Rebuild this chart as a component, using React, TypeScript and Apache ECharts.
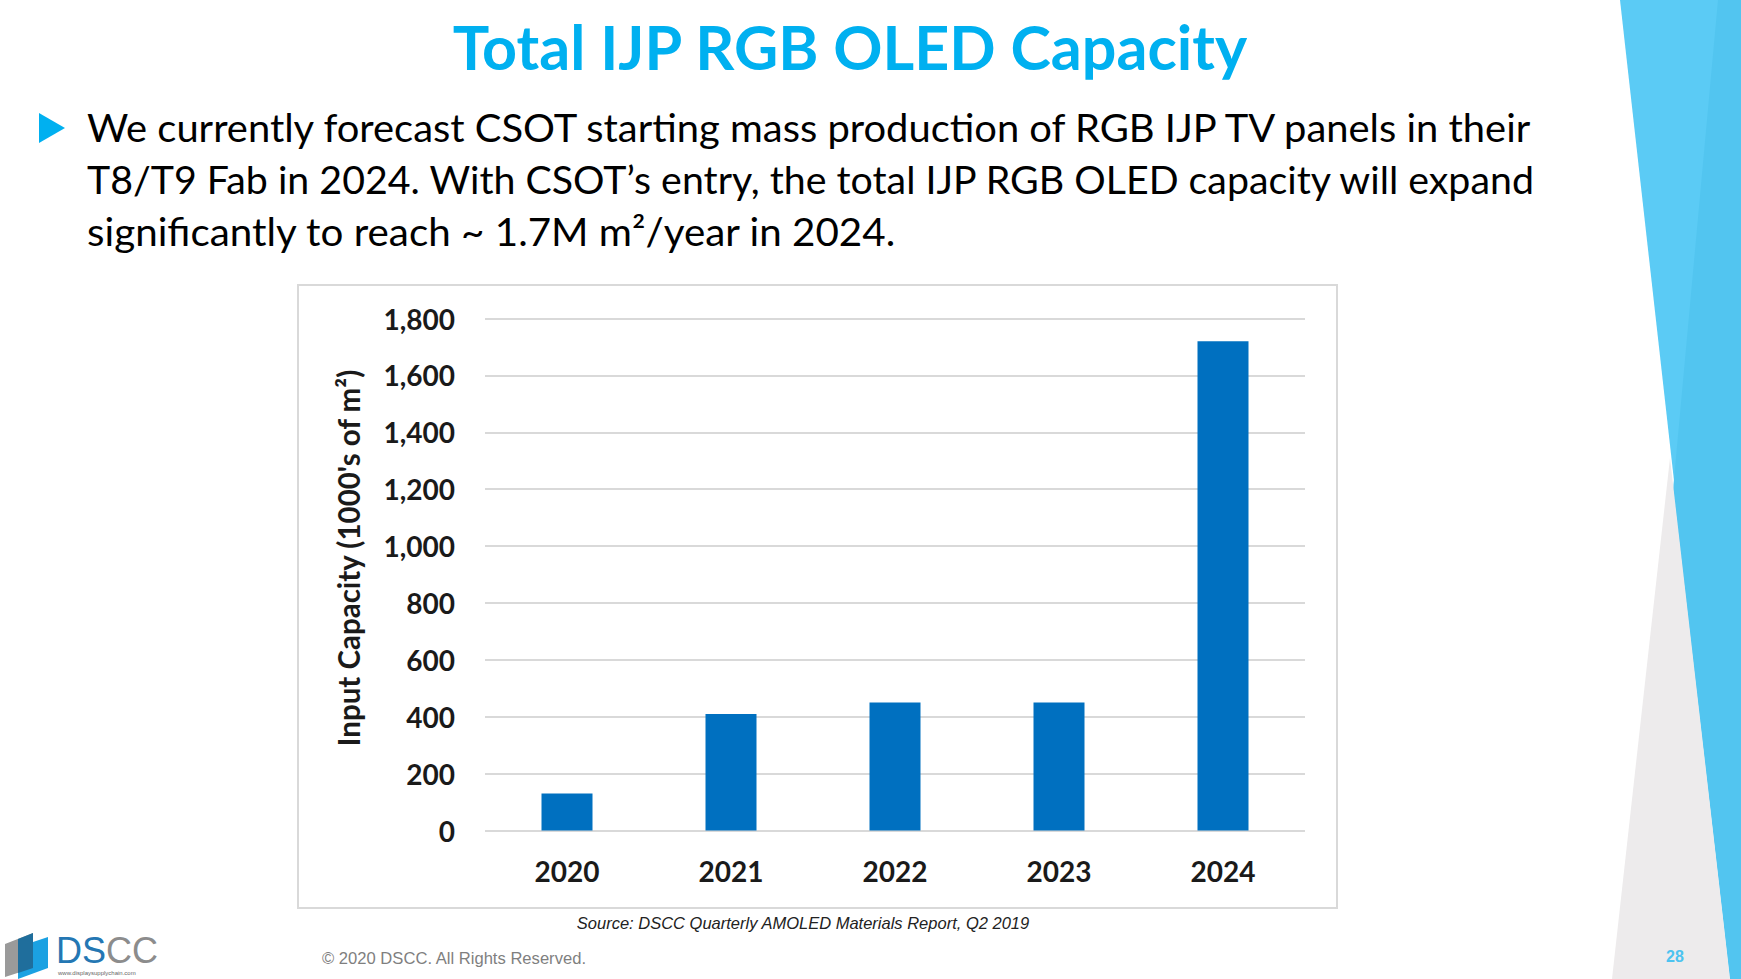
import React, { useEffect, useRef } from "react";
import * as echarts from "echarts";

const categories = ["2020", "2021", "2022", "2023", "2024"];
const capacity = [130, 410, 450, 450, 1720];
const yMin = 0;
const yMax = 1800;
const yInterval = 200;

const titleText = "Total IJP RGB OLED Capacity";
const bulletLines = [
  "We currently forecast CSOT starting mass production of RGB IJP TV panels in their",
  "T8/T9 Fab in 2024. With CSOT\u2019s entry, the total IJP RGB OLED capacity will expand",
  "significantly to reach ~ 1.7M m\u00B2/year in 2024.",
];
const yAxisTitle = "Input Capacity (1000's of m\u00B2)";
const sourceText = "Source: DSCC Quarterly AMOLED Materials Report, Q2 2019";
const copyrightText = "\u00A9 2020 DSCC. All Rights Reserved.";
const pageNumber = "28";

export default function App() {
  const ref = useRef<HTMLDivElement>(null);
  useEffect(() => {
    if (!ref.current) return;
    const chart = echarts.init(ref.current, null, { renderer: "svg" });
    const lineBaselines = [141, 193, 245];
    const lineScales = [1.05, 1.035, 1.062];
    const graphic: any[] = [
      // right decorations
      {
        type: "polygon",
        shape: { points: [[1620, 0], [1741, 0], [1741, 979], [1730, 979]] },
        style: { fill: "#5BCBF5" },
      },
      {
        type: "polygon",
        shape: { points: [[1718, 0], [1741, 0], [1741, 979], [1730, 979], [1673, 490]] },
        style: { fill: "#52C5F0" },
      },
      {
        type: "polygon",
        shape: { points: [[1670, 458], [1612, 979], [1730, 979]] },
        style: { fill: "#EDEBEC" },
      },
      {
        type: "text",
        x: 1675,
        y: 956,
        style: {
          text: pageNumber,
          fontSize: 16,
          fontWeight: "bold",
          fontFamily: "Liberation Sans",
          fill: "#4CC3F0",
          align: "center",
          verticalAlign: "middle",
        },
      },
      // title
      {
        type: "text",
        x: 850,
        y: 46,
        style: {
          text: titleText,
          fontSize: 61,
          fontWeight: "bold",
          fontFamily: "Lato",
          fill: "#00B0F0",
          align: "center",
          verticalAlign: "middle",
        },
      },
      // bullet
      {
        type: "polygon",
        shape: { points: [[39, 113], [39, 143], [65, 128]] },
        style: { fill: "#00B0F0" },
      },
      ...bulletLines.map((t, i) => ({
        type: "text",
        x: 87,
        y: lineBaselines[i] - 14,
        scaleX: lineScales[i],
        style: {
          text: t,
          fontSize: 38,
          fontFamily: "Lato",
          fill: "#000000",
          align: "left",
          verticalAlign: "middle",
        },
      })),
      // chart frame
      {
        type: "rect",
        shape: { x: 298, y: 285, width: 1039, height: 623 },
        style: { fill: "none", stroke: "#D9D9D9", lineWidth: 2 },
      },
      {
        type: "text",
        x: 348,
        y: 558,
        rotation: Math.PI / 2,
        style: {
          text: yAxisTitle,
          fontSize: 29.5,
          fontWeight: "bold",
          fontFamily: "Lato",
          fill: "#1a1a1a",
          align: "center",
          verticalAlign: "middle",
        },
      },
      {
        type: "text",
        x: 803,
        y: 923,
        style: {
          text: sourceText,
          fontSize: 16.5,
          fontStyle: "italic",
          fontFamily: "Liberation Sans",
          fill: "#222222",
          align: "center",
          verticalAlign: "middle",
        },
      },
      {
        type: "text",
        x: 322,
        y: 958,
        style: {
          text: copyrightText,
          fontSize: 16.6,
          fontFamily: "Liberation Sans",
          fill: "#7F7F7F",
          align: "left",
          verticalAlign: "middle",
        },
      },
      // logo
      {
        type: "polygon",
        shape: { points: [[5, 944], [33, 933], [33, 968], [5, 977]] },
        style: { fill: "#9A9A9A" },
      },
      {
        type: "polygon",
        shape: { points: [[18, 947], [48, 937], [48, 968], [18, 979]] },
        style: { fill: "#1BA1E2" },
      },
      {
        type: "polygon",
        shape: { points: [[18, 939], [33, 933], [33, 968], [18, 973]] },
        style: { fill: "#1F6E9C" },
      },
      {
        type: "text",
        x: 56,
        y: 950,
        style: {
          text: "{a|DS}{b|CC}",
          rich: {
            a: { fontSize: 36, fontFamily: "Liberation Sans", fill: "#2477B3" },
            b: { fontSize: 36, fontFamily: "Liberation Sans", fill: "#8C8C8C" },
          },
          align: "left",
          verticalAlign: "middle",
        },
      },
      {
        type: "text",
        x: 58,
        y: 973,
        style: {
          text: "www.displaysupplychain.com",
          fontSize: 6,
          fontFamily: "Liberation Sans",
          fill: "#666666",
          align: "left",
          verticalAlign: "middle",
        },
      },
    ];

    chart.setOption({
      animation: false,
      backgroundColor: "#ffffff",
      grid: { left: 485, right: 436, top: 318.5, bottom: 148.5, containLabel: false },
      xAxis: {
        type: "category",
        data: categories,
        axisLine: { show: false },
        axisTick: { show: false },
        axisLabel: {
          margin: 26,
          fontSize: 28,
          fontWeight: "bold",
          fontFamily: "Lato",
          color: "#1a1a1a",
        },
      },
      yAxis: {
        type: "value",
        min: yMin,
        max: yMax,
        interval: yInterval,
        axisLine: { show: false },
        axisTick: { show: false },
        splitLine: { lineStyle: { color: "#D9D9D9", width: 2 } },
        axisLabel: {
          margin: 30,
          fontSize: 28,
          fontWeight: "bold",
          fontFamily: "Lato",
          color: "#1a1a1a",
          formatter: (v: number) => v.toLocaleString("en-US"),
        },
      },
      series: [
        {
          type: "bar",
          data: capacity,
          barWidth: 51,
          itemStyle: { color: "#0070C0" },
        },
      ],
      graphic,
    });
    return () => chart.dispose();
  }, []);
  return (
    <div
      ref={ref}
      style={{ position: "absolute", left: 0, top: 0, width: 1741, height: 979 }}
    />
  );
}
